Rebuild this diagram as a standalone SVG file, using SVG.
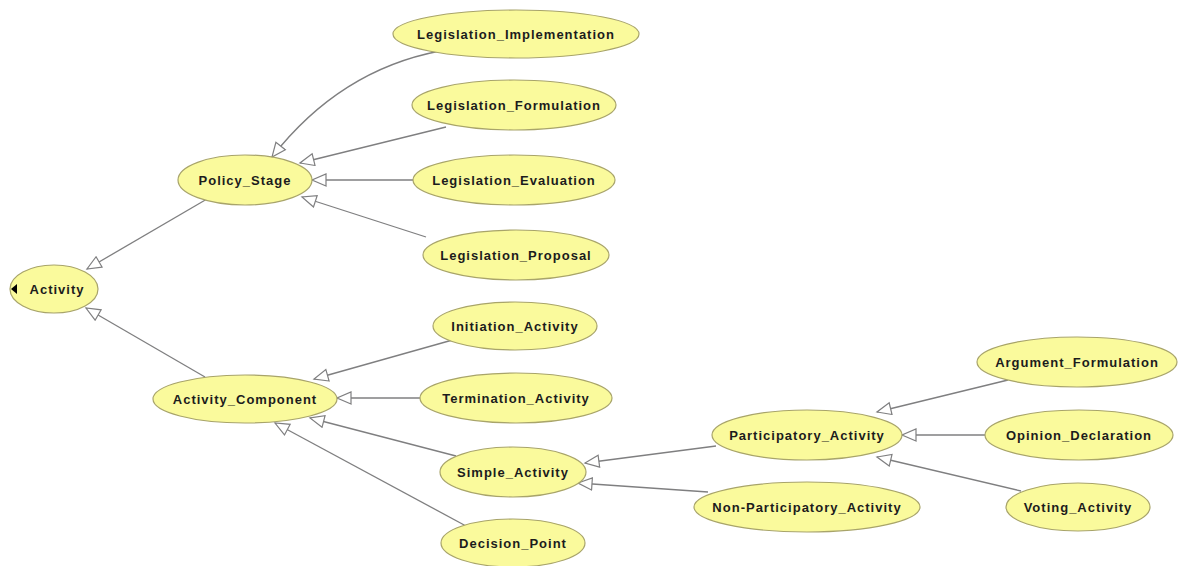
<svg xmlns="http://www.w3.org/2000/svg" width="1179" height="566" viewBox="0 0 1179 566">
  <style>
    .node ellipse { fill: #fafa9c; stroke: #a8a46a; stroke-width: 1.2; }
    .node text { font-family: "Liberation Sans", Arial, sans-serif; font-size: 13px; font-weight: bold; fill: #1c1c1c; text-anchor: middle; dominant-baseline: central; letter-spacing: 1px; }
    .edge { fill: none; stroke: #7f7f80; stroke-width: 1.3; marker-end: url(#hollow); }
  </style>
  <defs>
    <marker id="hollow" markerUnits="userSpaceOnUse" markerWidth="18" markerHeight="16" refX="15" refY="7" orient="auto">
      <path d="M1,1 L15,7 L1,13 Z" fill="#ffffff" stroke="#7f7f80" stroke-width="1.2"/>
    </marker>
  </defs>
  <rect width="1179" height="566" fill="#ffffff"/>

  <g id="connectors">
    <line class="edge" x1="207" y1="199" x2="87" y2="269"/>
    <line class="edge" x1="205" y1="377" x2="86" y2="308"/>
    <path class="edge" d="M440,51 Q340,70 272,157"/>
    <line class="edge" x1="446" y1="127" x2="300" y2="163"/>
    <line class="edge" x1="413" y1="180" x2="312" y2="180"/>
    <line class="edge" x1="426" y1="237" x2="302" y2="197"/>
    <line class="edge" x1="456" y1="339" x2="314" y2="379"/>
    <line class="edge" x1="420" y1="398" x2="337" y2="398"/>
    <line class="edge" x1="456" y1="456" x2="310" y2="418"/>
    <line class="edge" x1="466" y1="526" x2="275" y2="423"/>
    <line class="edge" x1="716" y1="446" x2="585" y2="463"/>
    <line class="edge" x1="708" y1="492" x2="578" y2="483"/>
    <line class="edge" x1="1008" y1="380" x2="877" y2="412"/>
    <line class="edge" x1="985" y1="435" x2="902" y2="435"/>
    <line class="edge" x1="1021" y1="491" x2="877" y2="457"/>
  </g>

  <g id="n-activity" class="node">
    <ellipse cx="54" cy="289" rx="44" ry="24"/>
    <text x="57" y="289">Activity</text>
    <polygon points="11,289 17,284 17,294" fill="#000000"/>
  </g>
  <g id="n-policy-stage" class="node">
    <ellipse cx="245" cy="180" rx="67" ry="25"/>
    <text x="245" y="180">Policy_Stage</text>
  </g>
  <g id="n-legislation-implementation" class="node">
    <ellipse cx="516" cy="34" rx="123" ry="24"/>
    <text x="516" y="34">Legislation_Implementation</text>
  </g>
  <g id="n-legislation-formulation" class="node">
    <ellipse cx="514" cy="105" rx="102" ry="25"/>
    <text x="514" y="105">Legislation_Formulation</text>
  </g>
  <g id="n-legislation-evaluation" class="node">
    <ellipse cx="514" cy="180" rx="101" ry="25"/>
    <text x="514" y="180">Legislation_Evaluation</text>
  </g>
  <g id="n-legislation-proposal" class="node">
    <ellipse cx="516" cy="255" rx="93" ry="25"/>
    <text x="516" y="255">Legislation_Proposal</text>
  </g>
  <g id="n-activity-component" class="node">
    <ellipse cx="245" cy="399" rx="92" ry="24"/>
    <text x="245" y="399">Activity_Component</text>
  </g>
  <g id="n-initiation-activity" class="node">
    <ellipse cx="515" cy="326" rx="82" ry="24"/>
    <text x="515" y="326">Initiation_Activity</text>
  </g>
  <g id="n-termination-activity" class="node">
    <ellipse cx="516" cy="398" rx="96" ry="25"/>
    <text x="516" y="398">Termination_Activity</text>
  </g>
  <g id="n-simple-activity" class="node">
    <ellipse cx="513" cy="472" rx="73" ry="25"/>
    <text x="513" y="472">Simple_Activity</text>
  </g>
  <g id="n-decision-point" class="node">
    <ellipse cx="513" cy="543" rx="72" ry="24"/>
    <text x="513" y="543">Decision_Point</text>
  </g>
  <g id="n-participatory-activity" class="node">
    <ellipse cx="807" cy="435" rx="95" ry="25"/>
    <text x="807" y="435">Participatory_Activity</text>
  </g>
  <g id="n-non-participatory-activity" class="node">
    <ellipse cx="807" cy="507" rx="113" ry="25"/>
    <text x="807" y="507">Non-Participatory_Activity</text>
  </g>
  <g id="n-argument-formulation" class="node">
    <ellipse cx="1077" cy="362" rx="100" ry="25"/>
    <text x="1077" y="362">Argument_Formulation</text>
  </g>
  <g id="n-opinion-declaration" class="node">
    <ellipse cx="1079" cy="435" rx="94" ry="25"/>
    <text x="1079" y="435">Opinion_Declaration</text>
  </g>
  <g id="n-voting-activity" class="node">
    <ellipse cx="1078" cy="507" rx="72" ry="24"/>
    <text x="1078" y="507">Voting_Activity</text>
  </g>
</svg>
